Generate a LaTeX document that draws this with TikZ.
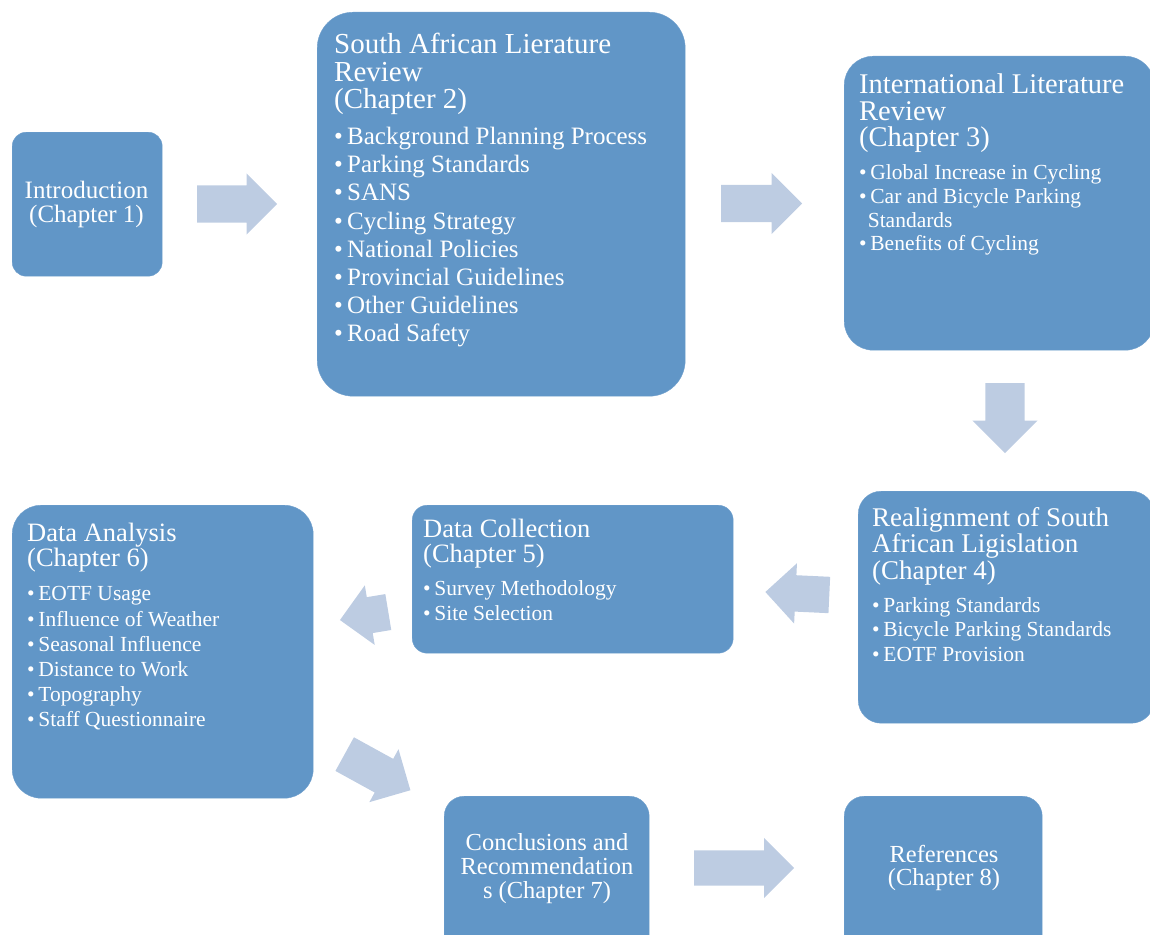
\documentclass[tikz,border=0pt]{standalone}
\usepackage{fontspec}
\setmainfont{Liberation Serif}
\usepackage{xcolor}
\usepackage{tikz}
\usetikzlibrary{shapes.arrows}

\definecolor{boxblue}{RGB}{97,150,199}
\definecolor{arrowblue}{RGB}{189,204,226}

\newcommand{\itm}{\makebox[0.52em][l]{\textbullet}}
\newcommand{\fullsp}{\spaceskip=0pt\xspaceskip=0pt\relax}

\tikzset{
  chbox/.style={fill=boxblue, draw=boxblue!90!white, anchor=north west, inner sep=0pt},
  chtext/.style={text=white, anchor=north west, inner sep=0pt, align=left},
  midtext/.style={text=white, inner sep=0pt, align=center},
  blockarrow/.style={single arrow, fill=arrowblue, draw=none, inner xsep=0pt, anchor=tail,
    inner ysep=18.5pt, single arrow head extend=12pt, single arrow tip angle=90},
}

\begin{document}
\begin{tikzpicture}[x=1pt,y=-1pt]

\clip (0,0) rectangle (1150,934);

% Chapter boxes
\node[chbox, minimum width=150, minimum height=144, rounded corners=14] (ch1) at (12,132) {};
\node[chbox, minimum width=368, minimum height=384, rounded corners=36] (ch2) at (317,12) {};
\node[chbox, minimum width=310, minimum height=294, rounded corners=29] (ch3) at (844,56) {};
\node[chbox, minimum width=296, minimum height=232, rounded corners=23] (ch4) at (858,491) {};
\node[chbox, minimum width=321, minimum height=148, rounded corners=15] (ch5) at (412,505) {};
\node[chbox, minimum width=301, minimum height=293, rounded corners=29] (ch6) at (12,505) {};
\node[chbox, minimum width=205, minimum height=210, rounded corners=20] (ch7) at (444,796) {};
\node[chbox, minimum width=198, minimum height=210, rounded corners=20] (ch8) at (844,796) {};

% Introduction
\node[midtext, font=\fontsize{25}{24}\selectfont] (t1) at (86.5,204)
  {Introduction\\(Chapter 1)};

% South African review
\node[chtext, text width=345] (t2) at (334,33) {\fullsp
  {\fontsize{29}{27.5}\selectfont South African Lierature\\Review\\(Chapter 2)\par}
  \vspace{8pt}
  {\fontsize{25}{28.1}\selectfont
  \itm Background Planning Process\\
  \itm Parking Standards\\
  \itm SANS\\
  \itm Cycling Strategy\\
  \itm National Policies\\
  \itm Provincial Guidelines\\
  \itm Other Guidelines\\
  \itm Road Safety\par}};

% International review
\node[chtext, text width=290] (t3) at (859,74) {\fullsp
  {\fontsize{28.5}{26.5}\selectfont International Literature\\Review\\(Chapter 3)\par}
  \vspace{9pt}
  {\fontsize{21.5}{23.7}\selectfont
  \itm Global Increase in Cycling\\
  \itm Car and Bicycle Parking\\
  \hspace*{0.4em}Standards\\
  \itm Benefits of Cycling\par}};

% Realignment
\node[chtext, text width=285] (t4) at (872,507) {\fullsp
  {\fontsize{27}{26.5}\selectfont Realignment of South\\African Ligislation\\(Chapter 4)\par}
  \vspace{8.5pt}
  {\fontsize{21.5}{24.5}\selectfont
  \itm Parking Standards\\
  \itm Bicycle Parking Standards\\
  \itm EOTF Provision\par}};

% Data collection
\node[chtext, text width=300] (t5) at (423,519) {\fullsp
  {\fontsize{26.5}{25}\selectfont Data Collection\\(Chapter 5)\par}
  \vspace{8pt}
  {\fontsize{21.5}{25}\selectfont
  \itm Survey Methodology\\
  \itm Site Selection\par}};

% Data analysis
\node[chtext, text width=280] (t6) at (27,523) {\fullsp
  {\fontsize{26.5}{24}\selectfont Data Analysis\\(Chapter 6)\par}
  \vspace{9pt}
  {\fontsize{21.5}{25.2}\selectfont
  \itm EOTF Usage\\
  \itm Influence of Weather\\
  \itm Seasonal Influence\\
  \itm Distance to Work\\
  \itm Topography\\
  \itm Staff Questionnaire\par}};

% Conclusions and references
\node[midtext, font=\fontsize{24.5}{24}\selectfont] (t7) at (547,868.5)
  {Conclusions and\\Recommendation\\s (Chapter 7)};
\node[midtext, font=\fontsize{24.5}{23}\selectfont] (t8) at (944,868)
  {References\\(Chapter 8)};

% Block arrows (placed by their tails)
\node[blockarrow, minimum height=80] (a1) at (197,204) {};
\node[blockarrow, minimum height=81] (a2) at (721,203.5) {};
\node[blockarrow, minimum height=70, inner ysep=19.5pt, single arrow head extend=13pt, rotate=-90] (a3) at (1005,383) {};
\node[blockarrow, minimum height=64, inner ysep=18pt, rotate=177.3] (a4) at (829.5,595) {};
\node[blockarrow, minimum height=49, inner ysep=18pt, rotate=189.4] (a5) at (388.5,612) {};
\node[blockarrow, minimum height=75, inner ysep=19pt, single arrow head extend=11pt, rotate=-28.8] (a6) at (344.5,754) {};
\node[blockarrow, minimum height=100, inner ysep=17.5pt, single arrow head extend=12.5pt] (a7) at (694,868) {};

\end{tikzpicture}
\end{document}
